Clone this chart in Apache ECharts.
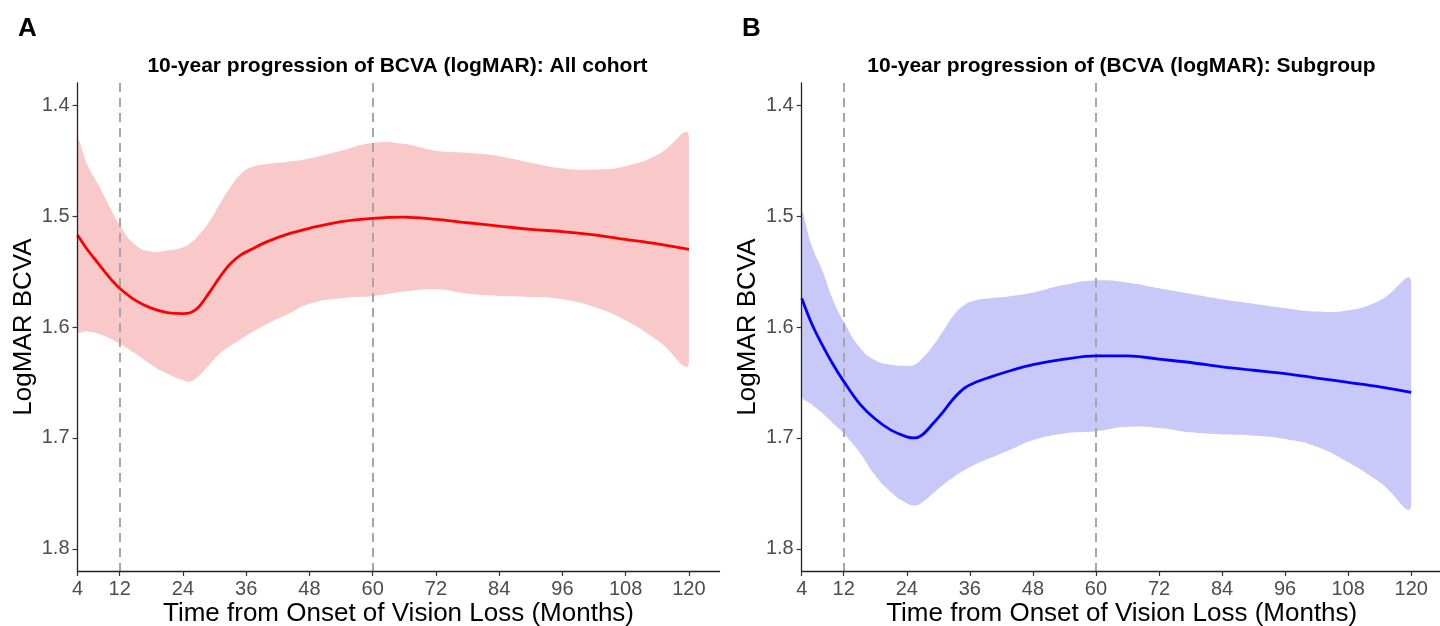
<!DOCTYPE html>
<html>
<head>
<meta charset="utf-8">
<script src="https://cdn.jsdelivr.net/npm/echarts@6/dist/echarts.min.js"></script>
<style>
  html, body { margin: 0; padding: 0; background: #fff; }
  #chart { width: 1440px; height: 626px; }
</style>
</head>
<body>
<div id="chart"></div>
<script>
// ---- Data ----
const months = [4, 6, 8, 10, 12, 15, 18, 21, 24, 25.5, 27, 29, 31, 33, 35, 37, 40, 44, 48, 54, 60, 66, 72, 78, 84, 90, 96, 102, 108, 114, 120];

// Panel A: All cohort
const meanA = [1.517, 1.531, 1.543, 1.555, 1.565, 1.576, 1.583, 1.587, 1.588, 1.587, 1.582, 1.569, 1.555, 1.543, 1.535, 1.530, 1.523, 1.516, 1.511, 1.505, 1.502, 1.501, 1.503, 1.506, 1.509, 1.512, 1.514, 1.517, 1.521, 1.525, 1.530];
const ciLowA = [1.433, 1.455, 1.472, 1.491, 1.508, 1.526, 1.532, 1.531, 1.528, 1.524, 1.517, 1.505, 1.489, 1.474, 1.462, 1.456, 1.453, 1.451, 1.448, 1.441, 1.434, 1.435, 1.441, 1.443, 1.446, 1.452, 1.457, 1.458, 1.455, 1.445, 1.428];
const ciHighA = [1.603, 1.604, 1.606, 1.610, 1.615, 1.624, 1.634, 1.642, 1.648, 1.649, 1.644, 1.634, 1.624, 1.617, 1.611, 1.605, 1.597, 1.588, 1.579, 1.574, 1.572, 1.568, 1.566, 1.570, 1.572, 1.573, 1.575, 1.582, 1.594, 1.612, 1.632];

// Panel B: Subgroup
const meanB = [1.574, 1.598, 1.617, 1.634, 1.649, 1.669, 1.683, 1.693, 1.699, 1.700, 1.697, 1.687, 1.676, 1.664, 1.655, 1.650, 1.645, 1.639, 1.634, 1.629, 1.626, 1.626, 1.629, 1.632, 1.636, 1.639, 1.642, 1.646, 1.650, 1.654, 1.659];
const ciLowB = [1.499, 1.528, 1.550, 1.576, 1.595, 1.618, 1.630, 1.634, 1.635, 1.634, 1.628, 1.617, 1.603, 1.589, 1.580, 1.576, 1.574, 1.572, 1.569, 1.562, 1.558, 1.560, 1.565, 1.570, 1.575, 1.579, 1.583, 1.586, 1.585, 1.576, 1.559];
const ciHighB = [1.661, 1.670, 1.678, 1.687, 1.696, 1.713, 1.734, 1.749, 1.759, 1.761, 1.758, 1.750, 1.742, 1.735, 1.729, 1.724, 1.718, 1.710, 1.702, 1.696, 1.694, 1.690, 1.691, 1.695, 1.697, 1.698, 1.701, 1.708, 1.722, 1.740, 1.761];

// Tick labels and reference lines
const xTicks = [4, 12, 24, 36, 48, 60, 72, 84, 96, 108, 120];
const yTicks = [1.4, 1.5, 1.6, 1.7, 1.8];
const refLines = [12, 60];

const panelLetters = ['A', 'B'];
const panelTitles = ['10-year progression of BCVA (logMAR): All cohort', '10-year progression of (BCVA (logMAR): Subgroup'];
const xTitle = 'Time from Onset of Vision Loss (Months)';
const yTitle = 'LogMAR BCVA';

// ---- Build chart ----
const FONT = '"Liberation Sans", Arial, Helvetica, sans-serif';
const panels = [
  { left: 77.5, width: 642, mean: meanA, lo: ciLowA, hi: ciHighA, line: '#ff0000', fill: '#f9c8c9', letterX: 18, titleX: 397.5 },
  { left: 801.7, width: 640, mean: meanB, lo: ciLowB, hi: ciHighB, line: '#0000ff', fill: '#c9c9f9', letterX: 742, titleX: 1121.5 }
];

const grids = [], xAxes = [], yAxes = [], series = [], graphics = [];
panels.forEach((p, i) => {
  grids.push({ left: p.left, top: 83, width: p.width, height: 488, outerBoundsMode: 'none', containLabel: false });
  xAxes.push({
    type: 'value', gridIndex: i, min: 4, max: 125.8, z: 10,
    name: xTitle, nameLocation: 'middle', nameGap: 30, nameMoveOverlap: false,
    nameTextStyle: { fontFamily: FONT, fontSize: 26, color: '#000' },
    splitLine: { show: false },
    axisLine: { show: true, onZero: false, lineStyle: { color: '#222', width: 1.3 } },
    axisTick: { show: true, length: 5, customValues: xTicks, lineStyle: { color: '#333', width: 1.2 } },
    axisLabel: { customValues: xTicks, fontFamily: FONT, fontSize: 20, color: '#4d4d4d', margin: 8, hideOverlap: false }
  });
  yAxes.push({
    type: 'value', gridIndex: i, inverse: true, min: 1.38, max: 1.82, z: 10,
    name: yTitle, nameLocation: 'middle', nameGap: 41, nameMoveOverlap: false,
    nameTextStyle: { fontFamily: FONT, fontSize: 26, color: '#000' },
    splitLine: { show: false },
    axisLine: { show: true, onZero: false, lineStyle: { color: '#222', width: 1.3 } },
    axisTick: { show: true, length: 5, customValues: yTicks, lineStyle: { color: '#333', width: 1.2 } },
    axisLabel: { customValues: yTicks, fontFamily: FONT, fontSize: 20, color: '#4d4d4d', margin: 8, formatter: v => v.toFixed(1) }
  });
  // confidence band as one smoothed polygon placed through the axes' scales
  series.push({
    type: 'custom', xAxisIndex: i, yAxisIndex: i, silent: true, z: 1,
    data: months.map((m, k) => [m, p.lo[k], p.hi[k]]),
    encode: { x: 0, y: [1, 2] },
    renderItem: (params, api) => {
      if (params.dataIndex !== 0) return null;
      const upper = months.map((m, k) => api.coord([m, p.lo[k]]));
      const lower = months.map((m, k) => api.coord([m, p.hi[k]])).reverse();
      const cs = params.coordSys;
      const xs = upper.map(pt => pt[0]);
      return {
        type: 'polygon',
        shape: {
          points: upper.concat(lower),
          smooth: 0.5,
          smoothConstraint: [[Math.min(...xs), cs.y], [Math.max(...xs), cs.y + cs.height]]
        },
        style: { fill: p.fill }
      };
    }
  });
  // fitted mean line with dashed reference lines
  series.push({
    type: 'line', xAxisIndex: i, yAxisIndex: i, silent: true,
    symbol: 'none', smooth: 0.35, z: 5,
    lineStyle: { color: p.line, width: 2.8 },
    data: months.map((m, k) => [m, p.mean[k]]),
    markLine: {
      silent: true, symbol: 'none', label: { show: false },
      lineStyle: { color: '#a6a6a6', width: 2, type: [9, 6] },
      data: refLines.map(x => ({ xAxis: x }))
    }
  });
  graphics.push({
    type: 'text', left: p.letterX, top: 16,
    style: { text: panelLetters[i], font: 'bold 26px ' + FONT, fill: '#000' }
  });
  graphics.push({
    type: 'text', x: p.titleX, y: 56,
    style: { text: panelTitles[i], font: 'bold 21px ' + FONT, fill: '#000', textAlign: 'center', textVerticalAlign: 'top' }
  });
});

const chart = echarts.init(document.getElementById('chart'), null, { renderer: 'canvas' });
chart.setOption({
  backgroundColor: '#ffffff',
  animation: false,
  grid: grids,
  xAxis: xAxes,
  yAxis: yAxes,
  series: series,
  graphic: graphics
});
</script>
</body>
</html>
